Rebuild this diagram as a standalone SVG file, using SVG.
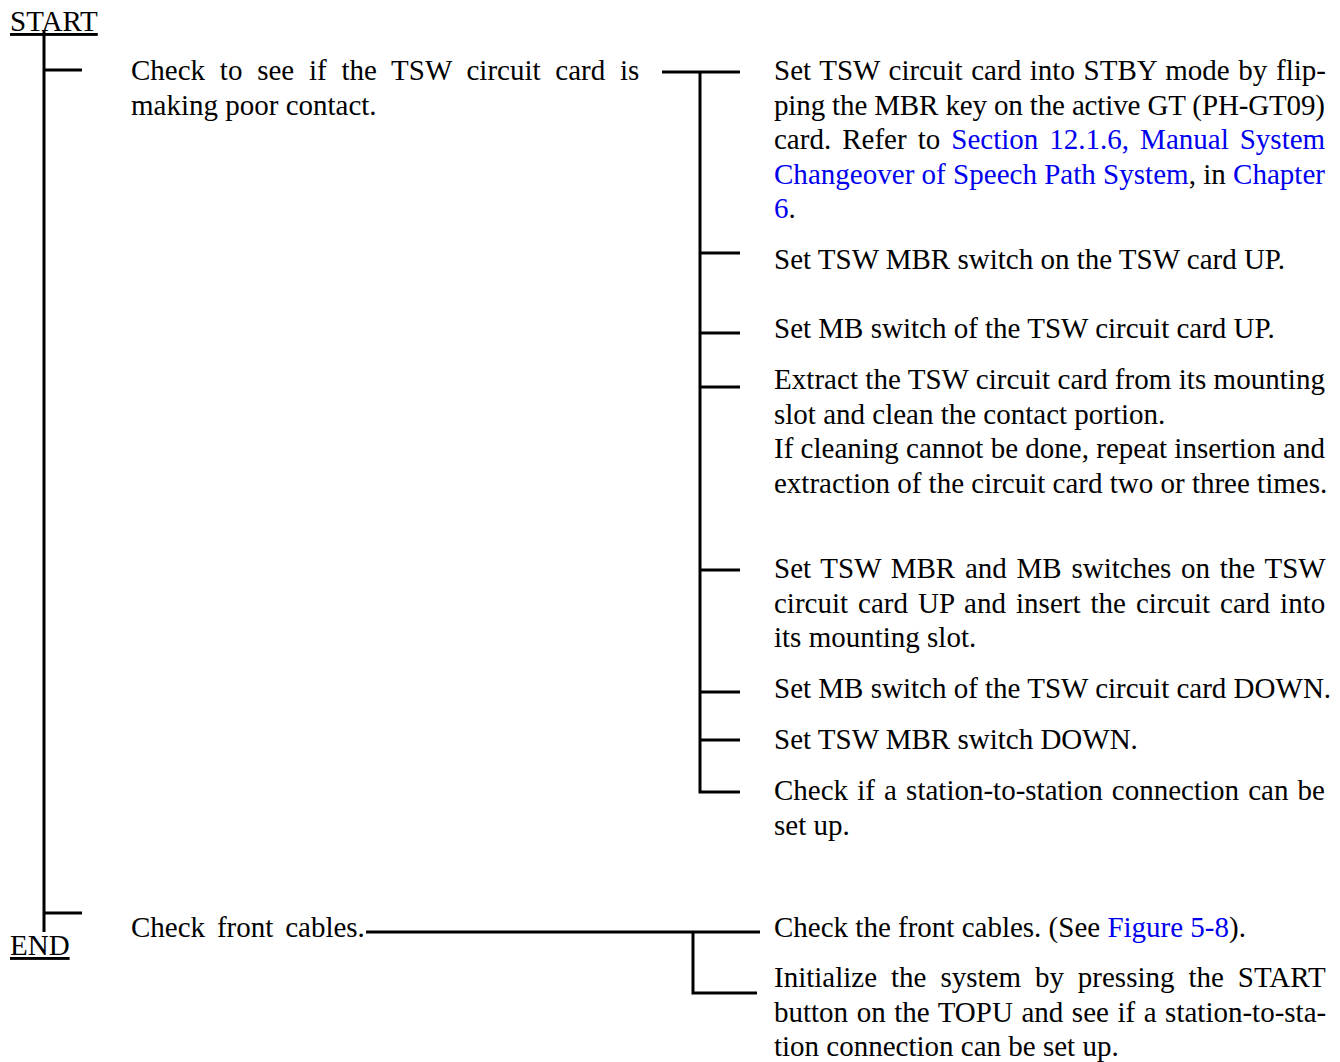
<svg xmlns="http://www.w3.org/2000/svg" width="1340" height="1062" viewBox="0 0 1340 1062">
<style>
text{font-family:"Liberation Serif","Times New Roman",serif;font-size:29px;fill:#000}
.lk{fill:#0000ee}
.c{stroke:#000;stroke-width:3;fill:none}
</style>
<rect width="1340" height="1062" fill="#fff"/>
<g id="connectors">
<path class="c" d="M44,30V932M44,70H82M44,913H82"/>
<path class="c" d="M662,72H740M700,72V792H740M700,253H740M700,333H740M700,387H740M700,570H740M700,692H740M700,740H740"/>
<path class="c" d="M366,932H760M693,932V993H757"/>
</g>
<g id="start"><text x="10" y="31" text-decoration="underline">START</text></g>
<g id="end"><text x="10" y="955" text-decoration="underline">END</text></g>
<g id="n1">
<text x="131" y="80" word-spacing="7.5">Check to see if the TSW circuit card is</text>
<text x="131" y="114.6">making poor contact.</text>
</g>
<g id="n1a">
<text x="774" y="80" word-spacing="1.4">Set TSW circuit card into STBY mode by flip-</text>
<text x="774" y="114.6" textLength="551" lengthAdjust="spacing">ping the MBR key on the active GT (PH-GT09)</text>
<text x="774" y="149.2" word-spacing="3.8">card. Refer to <tspan class="lk">Section 12.1.6, Manual System</tspan></text>
<text x="774" y="183.8" textLength="551" lengthAdjust="spacing"><tspan class="lk">Changeover of Speech Path System</tspan>, in <tspan class="lk">Chapter</tspan></text>
<text x="774" y="218.4"><tspan class="lk">6</tspan>.</text>
</g>
<g id="n1b"><text x="774" y="269">Set TSW MBR switch on the TSW card UP.</text></g>
<g id="n1c"><text x="774" y="338">Set MB switch of the TSW circuit card UP.</text></g>
<g id="n1d">
<text x="774" y="389" textLength="551" lengthAdjust="spacing">Extract the TSW circuit card from its mounting</text>
<text x="774" y="423.6">slot and clean the contact portion.</text>
<text x="774" y="458.2" textLength="551" lengthAdjust="spacing">If cleaning cannot be done, repeat insertion and</text>
<text x="774" y="492.8">extraction of the circuit card two or three times.</text>
</g>
<g id="n1e">
<text x="774" y="578" word-spacing="2.5">Set TSW MBR and MB switches on the TSW</text>
<text x="774" y="612.6" word-spacing="2.8">circuit card UP and insert the circuit card into</text>
<text x="774" y="647.2">its mounting slot.</text>
</g>
<g id="n1f"><text x="774" y="698">Set MB switch of the TSW circuit card DOWN.</text></g>
<g id="n1g"><text x="774" y="749">Set TSW MBR switch DOWN.</text></g>
<g id="n1h">
<text x="774" y="800" word-spacing="1.9">Check if a station-to-station connection can be</text>
<text x="774" y="834.6">set up.</text>
</g>
<g id="n2"><text x="131" y="937" word-spacing="4.6">Check front cables.</text></g>
<g id="n2a"><text x="774" y="937">Check the front cables. (See <tspan class="lk">Figure 5-8</tspan>).</text></g>
<g id="n2b">
<text x="774" y="987" word-spacing="6.7">Initialize the system by pressing the START</text>
<text x="774" y="1021.6" word-spacing="1.3">button on the TOPU and see if a station-to-sta-</text>
<text x="774" y="1056.2">tion connection can be set up.</text>
</g>
</svg>
